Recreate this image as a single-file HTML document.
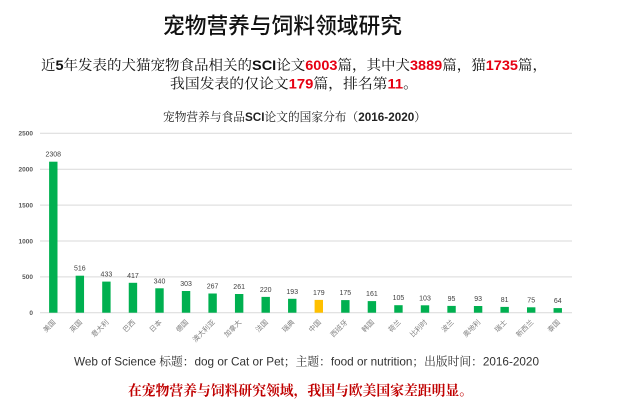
<!DOCTYPE html>
<html><head><meta charset="utf-8">
<style>
html,body{margin:0;padding:0;background:#fff;}
svg{display:block;}
.cjk{font-family:"Liberation Sans","Noto Serif CJK SC",serif;}
.sans{font-family:"Liberation Sans","Noto Sans CJK SC",sans-serif;}
</style></head>
<body>
<svg width="627" height="412" viewBox="0 0 627 412" xmlns="http://www.w3.org/2000/svg">
<rect width="627" height="412" fill="#fff"/>

<!-- Main title -->
<text x="163" y="33.4" font-size="22" font-weight="500" textLength="239" lengthAdjust="spacingAndGlyphs" fill="#111" class="sans">宠物营养与饲料领域研究</text>

<!-- line 2 -->
<text x="41" y="69.8" font-size="14" textLength="506" lengthAdjust="spacingAndGlyphs" fill="#111" class="cjk">近<tspan font-weight="bold">5</tspan>年发表的犬猫宠物食品相关的<tspan font-weight="bold">SCI</tspan>论文<tspan font-weight="bold" fill="#e60012">6003</tspan>篇，其中犬<tspan font-weight="bold" fill="#e60012">3889</tspan>篇，猫<tspan font-weight="bold" fill="#e60012">1735</tspan>篇，</text>
<!-- line 3 -->
<text x="170" y="88.6" font-size="14" textLength="248" lengthAdjust="spacingAndGlyphs" fill="#111" class="cjk">我国发表的仅论文<tspan font-weight="bold" fill="#e60012">179</tspan>篇，排名第<tspan font-weight="bold" fill="#e60012">11</tspan>。</text>

<!-- chart title -->
<text x="163" y="121" font-size="12" textLength="263" lengthAdjust="spacingAndGlyphs" fill="#222" class="cjk">宠物营养与食品<tspan font-weight="bold">SCI</tspan>论文的国家分布（<tspan font-weight="bold">2016-2020</tspan>）</text>

<!-- gridlines -->
<g stroke="#d9d9d9" stroke-width="1">
<line x1="40" y1="133.3" x2="572" y2="133.3"/>
<line x1="40" y1="169.2" x2="572" y2="169.2"/>
<line x1="40" y1="205.1" x2="572" y2="205.1"/>
<line x1="40" y1="241" x2="572" y2="241"/>
<line x1="40" y1="276.9" x2="572" y2="276.9"/>
<line x1="40" y1="312.7" x2="572" y2="312.7"/>
</g>

<!-- y tick labels -->
<g font-size="6.5" font-weight="bold" fill="#595959" text-anchor="end" class="sans">
<text x="33" y="135.6">2500</text>
<text x="33" y="171.5">2000</text>
<text x="33" y="207.4">1500</text>
<text x="33" y="243.3">1000</text>
<text x="33" y="279.2">500</text>
<text x="33" y="315">0</text>
</g>

<!-- bars -->
<g fill="#00b050">
<rect x="49.1" y="161.7" width="8.4" height="151"/>
<rect x="75.65" y="275.7" width="8.4" height="37"/>
<rect x="102.2" y="281.6" width="8.4" height="31.1"/>
<rect x="128.75" y="282.8" width="8.4" height="29.9"/>
<rect x="155.3" y="288.3" width="8.4" height="24.4"/>
<rect x="181.85" y="291" width="8.4" height="21.7"/>
<rect x="208.4" y="293.5" width="8.4" height="19.2"/>
<rect x="234.95" y="294" width="8.4" height="18.7"/>
<rect x="261.5" y="296.9" width="8.4" height="15.8"/>
<rect x="288.05" y="298.8" width="8.4" height="13.9"/>
<rect x="341.15" y="300.1" width="8.4" height="12.6"/>
<rect x="367.7" y="301.1" width="8.4" height="11.6"/>
<rect x="394.25" y="305.2" width="8.4" height="7.5"/>
<rect x="420.8" y="305.3" width="8.4" height="7.4"/>
<rect x="447.35" y="305.9" width="8.4" height="6.8"/>
<rect x="473.9" y="306" width="8.4" height="6.7"/>
<rect x="500.45" y="306.9" width="8.4" height="5.8"/>
<rect x="527" y="307.3" width="8.4" height="5.4"/>
<rect x="553.55" y="308.1" width="8.4" height="4.6"/>
</g>
<rect x="314.6" y="299.9" width="8.4" height="12.8" fill="#ffc000"/>

<!-- value labels -->
<g font-size="7" fill="#404040" text-anchor="middle" class="sans">
<text x="53.3" y="156.7">2308</text>
<text x="79.85" y="270.7">516</text>
<text x="106.4" y="276.6">433</text>
<text x="132.95" y="277.8">417</text>
<text x="159.5" y="283.3">340</text>
<text x="186.05" y="286">303</text>
<text x="212.6" y="288.5">267</text>
<text x="239.15" y="289">261</text>
<text x="265.7" y="291.9">220</text>
<text x="292.25" y="293.8">193</text>
<text x="318.8" y="294.9">179</text>
<text x="345.35" y="295.1">175</text>
<text x="371.9" y="296.1">161</text>
<text x="398.45" y="300.2">105</text>
<text x="425" y="300.3">103</text>
<text x="451.55" y="300.9">95</text>
<text x="478.1" y="301">93</text>
<text x="504.65" y="301.9">81</text>
<text x="531.2" y="302.3">75</text>
<text x="557.75" y="303.1">64</text>
</g>

<!-- category labels -->
<g font-size="7" fill="#7f7f7f" text-anchor="end" class="sans">
<text transform="translate(56,322.7) rotate(-45)">美国</text>
<text transform="translate(82.55,322.7) rotate(-45)">英国</text>
<text transform="translate(109.1,322.7) rotate(-45)">意大利</text>
<text transform="translate(135.65,322.7) rotate(-45)">巴西</text>
<text transform="translate(162.2,322.7) rotate(-45)">日本</text>
<text transform="translate(188.75,322.7) rotate(-45)">德国</text>
<text transform="translate(215.3,322.7) rotate(-45)">澳大利亚</text>
<text transform="translate(241.85,322.7) rotate(-45)">加拿大</text>
<text transform="translate(268.4,322.7) rotate(-45)">法国</text>
<text transform="translate(294.95,322.7) rotate(-45)">瑞典</text>
<text transform="translate(321.5,322.7) rotate(-45)">中国</text>
<text transform="translate(348.05,322.7) rotate(-45)">西班牙</text>
<text transform="translate(374.6,322.7) rotate(-45)">韩国</text>
<text transform="translate(401.15,322.7) rotate(-45)">荷兰</text>
<text transform="translate(427.7,322.7) rotate(-45)">比利时</text>
<text transform="translate(454.25,322.7) rotate(-45)">波兰</text>
<text transform="translate(480.8,322.7) rotate(-45)">奥地利</text>
<text transform="translate(507.35,322.7) rotate(-45)">瑞士</text>
<text transform="translate(533.9,322.7) rotate(-45)">新西兰</text>
<text transform="translate(560.45,322.7) rotate(-45)">泰国</text>
</g>

<!-- source line -->
<text x="74" y="365.5" font-size="12" textLength="465" lengthAdjust="spacingAndGlyphs" fill="#333" class="cjk">Web of Science 标题：dog or Cat or Pet；主题：food or nutrition；出版时间：2016-2020</text>

<!-- conclusion -->
<text x="128" y="395.3" font-size="14" font-weight="bold" textLength="345" lengthAdjust="spacingAndGlyphs" fill="#c00000" font-family="'Noto Serif CJK SC',serif">在宠物营养与饲料研究领域，我国与欧美国家差距明显。</text>
</svg>
</body></html>
